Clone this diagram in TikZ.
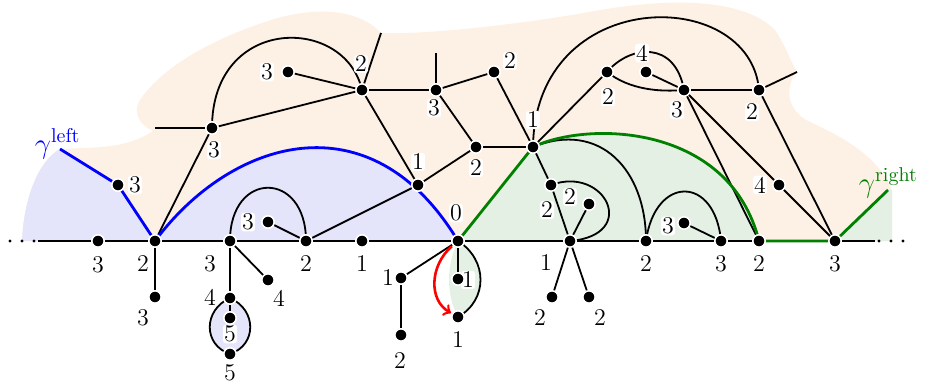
\documentclass[tikz,border=0pt]{standalone}
\usepackage{amsmath, amssymb}
\usepackage{xcolor}
\usepackage{tikz}

\definecolor{peach}{RGB}{253,240,228}
\definecolor{lav}{RGB}{228,228,250}
\definecolor{mint}{RGB}{228,240,228}
\definecolor{dgreen}{RGB}{0,128,0}

\begin{document}
\begin{tikzpicture}[x=0.5pt, y=-0.5pt, >=to, line width=0.9pt,
    dot/.style={circle, fill=black, draw=white, line width=0.8pt, inner sep=0pt, minimum size=6.2pt},
    lbl/.style={fill=white, inner sep=0.6pt, rounded corners=1.5pt, font=\large},
    gam/.style={font=\Large, anchor=base west, inner sep=0pt}]
    \useasboundingbox (0,0) rectangle (925,385);

    % Vertices
    \foreach \n/\x/\y in {b1/98/241, b2/155/241, b3/230/241, b4/306/241, b5/362/241,
        b6/458/241, b7/570/241, b8/646/241, b9/721/241, b10/759/241, b11/835/241,
        g1/118/185, d1/155/297, d2/230/298, d3/230/318, d4/230/354, d5/268/280, d6/268/222,
        u1/212/128, u2/288/72, u3/362/90, u4/436/90, u5/494/72, u6/476/147, u7/418/185,
        u8/533/147, u9/607/72, u10/646/72, u11/684/90, u12/759/90, u13/779/185,
        m1/551/185, m2/589/204, m3/684/223,
        l1/401/278, l2/401/335, l3/458/279, l4/458/317, l5/552/297, l6/589/297} {
        \coordinate (\n) at (\x,\y);
    }
    % Free ends
    \coordinate (bl) at (38,241);
    \coordinate (br) at (875,241);
    \coordinate (gl) at (60,149);
    \coordinate (gr) at (888,190);
    \coordinate (e1) at (155,128);
    \coordinate (e2) at (381,33);
    \coordinate (e3) at (436,53);
    \coordinate (e4) at (797,72);

    % Regions
    \fill[peach] (22,241) .. controls (24,195) and (40,160) .. (gl)
        .. controls (90,147) and (125,150) .. (153,131)
        .. controls (140,125) and (132,113) .. (140,100)
        .. controls (160,70) and (205,42) .. (265,22)
        .. controls (305,8) and (355,5) .. (e2)
        .. controls (420,35) and (520,25) .. (600,10)
        .. controls (660,0) and (740,-5) .. (775,30)
        .. controls (785,45) and (790,60) .. (e4)
        .. controls (785,85) and (785,110) .. (810,122)
        .. controls (850,140) and (880,160) .. (892,190)
        -- (892,241) -- cycle;
    \fill[lav] (22,241) .. controls (24,195) and (40,160) .. (gl) -- (g1) -- (b2) -- cycle;
    \fill[lav] (b2) .. controls (230,140) and (370,95) .. (b6) -- cycle;
    \fill[lav] (d2) .. controls (203,310) and (203,345) .. (d4)
        .. controls (257,345) and (257,310) .. (d2);
    \fill[mint] (b6) -- (u8) .. controls (590,120) and (730,125) .. (b10) -- cycle;
    \fill[mint] (b11) -- (gr) -- (892,190) -- (892,241) -- cycle;
    \fill[mint] (b6) .. controls (446,265) and (446,295) .. (l4)
        .. controls (488,300) and (488,260) .. (b6);

    % Baseline
    \draw (bl) -- (br);
    \foreach \x in {10,22,34,879,891,903} {
        \fill (\x,241) circle (0.8pt);
    }

    % Edges
    \foreach \a/\b in {b2/d1, b2/u1, u1/e1, u1/u3, u2/u3, u3/e2, u3/u4, u3/u7,
        u4/e3, u4/u5, u4/u6, u5/u8, u6/u8, u6/u7, u7/b4, b4/d6, b3/d2, b3/d5, d2/d3,
        b6/l1, l1/l2, b6/l3, u8/u9, u8/m1, m1/b7, b7/m2, b7/l5, b7/l6, m3/b9,
        u10/u11, u11/u12, u12/e4, u11/b10, u11/u13, u13/b11, u12/b11} {
        \draw (\a) -- (\b);
    }
    \draw (u1) .. controls (212,15) and (345,15) .. (u3);
    \draw (b3) .. controls (230,170) and (306,170) .. (b4);
    \draw (d2) .. controls (203,310) and (203,345) .. (d4);
    \draw (d2) .. controls (257,310) and (257,345) .. (d4);
    \draw (b6) .. controls (488,260) and (488,300) .. (l4);
    \draw (u8) .. controls (600,120) and (646,170) .. (b8);
    \draw (u8) .. controls (535,-15) and (750,-15) .. (u12);
    \draw (m1) .. controls (605,165) and (640,235) .. (b7);
    \draw (b8) .. controls (655,175) and (715,175) .. (b9);
    \draw (u9) .. controls (630,45) and (675,40) .. (u11);
    \draw (u9) .. controls (630,90) and (660,92) .. (u11);
    \draw[red, line width=1.3pt, ->, shorten <=4pt, shorten >=4pt]
        (b6) .. controls (430,265) and (428,300) .. (l4);

    % Paths gamma
    \draw[blue, line width=1.4pt, line join=round] (gl) -- (g1) -- (b2)
        .. controls (230,140) and (370,95) .. (b6);
    \draw[dgreen, line width=1.4pt, line join=round] (b6) -- (u8)
        .. controls (590,120) and (730,125) .. (b10) -- (b11) -- (gr);
    \node[gam, text=blue] (gleft) at (34,153) {$\gamma^{\text{left}}$};
    \node[gam, text=dgreen] (gright) at (858,192) {$\gamma^{\text{right}}$};

    % Dots and labels
    \foreach \n/\lx/\ly/\t in {b1/98/265/3, b2/143/264/2, b3/210/264/3, b4/306/264/2,
        b5/362/264/1, b6/456/213/0, b7/546/263/1, b8/646/264/2, b9/721/264/3,
        b10/759/264/2, b11/835/264/3, g1/135/185/3, d1/143/318/3, d2/210/297/4,
        d3/230/334/5, d4/230/373/5, d5/279/298/4, d6/248/222/3,
        u1/214/150/3, u2/267/72/3, u3/361/64/2, u4/434/108/3, u5/510/61/2,
        u6/476/168/2, u7/418/162/1, u8/533/120/1, u9/608/97/2, u10/642/53/4,
        u11/677/110/3, u12/752/112/2, u13/760/185/4,
        m1/547/210/2, m2/570/197/2, m3/668/226/3,
        l1/388/278/1, l2/400/361/2, l3/468/280/1, l4/458/340/1, l5/540/318/2, l6/600/318/2} {
        \node[lbl] (\n-lbl) at (\lx,\ly) {\t};
        \node[dot] (\n-dot) at (\n) {};
    }
\end{tikzpicture}
\end{document}
